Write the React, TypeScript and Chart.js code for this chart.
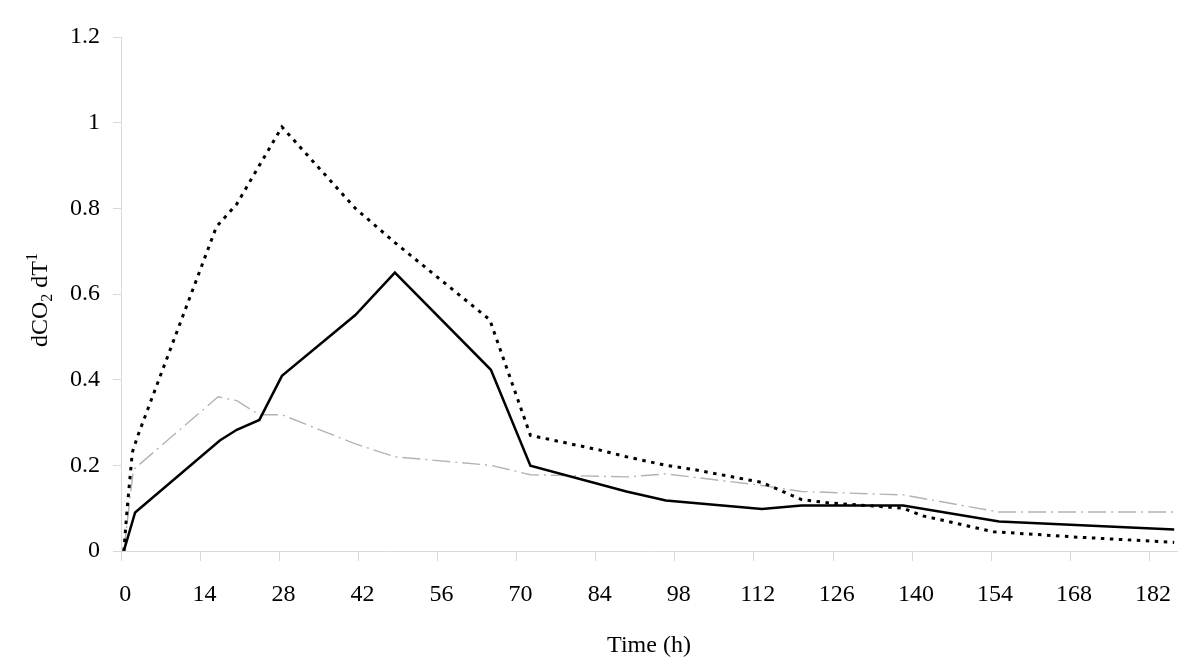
import React, { useEffect, useRef } from "react";
import { Chart, registerables } from "chart.js";

Chart.register(...registerables);

// ---- Data ----
const xTicks = [0, 14, 28, 42, 56, 70, 84, 98, 112, 126, 140, 154, 168, 182];
const yTicks = [0, 0.2, 0.4, 0.6, 0.8, 1, 1.2];

const solidTime = [0, 2, 17, 20, 24, 28, 41, 48, 65, 72, 89, 96, 113, 120, 138, 155, 186];
const solidValue = [0, 0.09, 0.258, 0.283, 0.306, 0.409, 0.551, 0.65, 0.423, 0.199, 0.139, 0.118, 0.098, 0.106, 0.106, 0.069, 0.05];

const dottedTime = [0, 0.6, 1.5, 2.5, 16.4, 20, 28, 41, 48, 64.8, 72, 84.5, 89, 96, 101, 113, 120, 125, 138, 141.5, 154, 168, 175, 186];
const dottedValue = [0, 0.1, 0.23, 0.27, 0.757, 0.81, 0.99, 0.8, 0.72, 0.54, 0.27, 0.235, 0.22, 0.2, 0.19, 0.16, 0.12, 0.112, 0.1, 0.082, 0.045, 0.033, 0.028, 0.02];

const greyTime = [0, 1.7, 16.7, 20, 24, 28, 41, 48, 65, 72, 89, 96, 113, 120, 138, 155, 186];
const greyValue = [0, 0.19, 0.36, 0.351, 0.318, 0.318, 0.25, 0.22, 0.2, 0.178, 0.173, 0.18, 0.153, 0.139, 0.131, 0.091, 0.091];

const xTitle = "Time (h)";
const yTitleParts = [
  { text: "dCO", kind: "n" },
  { text: "2", kind: "sub" },
  { text: " dT", kind: "n" },
  { text: "1", kind: "sup" },
];

const FONT_FAMILY = '"Liberation Serif", "Times New Roman", serif';
const AXIS_GREY = "#d9d9d9";

const toPoints = (xs: number[], ys: number[]) => xs.map((x, i) => ({ x, y: ys[i] }));

const decorPlugin = {
  id: "decor",
  afterDraw(chart: any) {
    const ctx = chart.ctx as CanvasRenderingContext2D;
    const xs = chart.scales.x;
    const area = chart.chartArea;
    ctx.save();
    // x tick marks between categories
    ctx.strokeStyle = AXIS_GREY;
    ctx.lineWidth = 1;
    ctx.beginPath();
    xTicks.forEach((v) => {
      const px = Math.round(xs.getPixelForValue(v - 0.5)) + 0.5;
      ctx.moveTo(px, area.bottom);
      ctx.lineTo(px, area.bottom + 10);
    });
    ctx.stroke();

    // x tick labels
    ctx.fillStyle = "#000";
    ctx.font = `24px ${FONT_FAMILY}`;
    ctx.textAlign = "center";
    ctx.textBaseline = "alphabetic";
    xTicks.forEach((v) => {
      ctx.fillText(String(v), xs.getPixelForValue(v) + 1.5, 601);
    });

    // x title
    ctx.fillText(xTitle, (area.left + area.right) / 2, 652);

    // y title (rotated, with sub/superscript)
    const big = `24px ${FONT_FAMILY}`;
    const small = `16px ${FONT_FAMILY}`;
    let total = 0;
    yTitleParts.forEach((p) => {
      ctx.font = p.kind === "n" ? big : small;
      total += ctx.measureText(p.text).width;
    });
    const cy = 300;
    ctx.translate(47, cy + total / 2);
    ctx.rotate(-Math.PI / 2);
    ctx.textAlign = "left";
    let x = 0;
    yTitleParts.forEach((p) => {
      ctx.font = p.kind === "n" ? big : small;
      const dy = p.kind === "sub" ? 5 : p.kind === "sup" ? -10 : 0;
      ctx.fillText(p.text, x, dy);
      x += ctx.measureText(p.text).width;
    });
    ctx.restore();
  },
};

export default function App() {
  const canvasRef = useRef<HTMLCanvasElement | null>(null);

  useEffect(() => {
    document.body.style.margin = "0";
    const canvas = canvasRef.current;
    if (!canvas) return;
    const font = { family: FONT_FAMILY, size: 24 };
    const chart = new Chart(canvas, {
      type: "scatter",
      data: {
        datasets: [
          {
            label: "solid",
            data: toPoints(solidTime, solidValue),
            showLine: true,
            borderColor: "#000",
            borderWidth: 2.5,
            pointRadius: 0,
            tension: 0,
            fill: false,
          },
          {
            label: "dotted",
            data: toPoints(dottedTime, dottedValue),
            showLine: true,
            borderColor: "#000",
            borderWidth: 3,
            borderDash: [3.5, 5.5],
            borderCapStyle: "butt",
            pointRadius: 0,
            tension: 0,
            fill: false,
          },
          {
            label: "dashdot",
            data: toPoints(greyTime, greyValue),
            showLine: true,
            borderColor: "#b3b3b3",
            borderWidth: 1.4,
            borderDash: [18, 5, 2, 5],
            pointRadius: 0,
            tension: 0,
            fill: false,
          },
        ],
      },
      options: {
        responsive: false,
        animation: false,
        layout: { padding: { top: 37, right: 23, left: 0, bottom: 0 } },
        plugins: { legend: { display: false }, tooltip: { enabled: false } },
        scales: {
          x: {
            type: "linear",
            min: -0.5,
            max: 186.5,
            afterBuildTicks: (s: any) => {
              s.ticks = xTicks.map((v) => ({ value: v }));
            },
            afterFit: (s: any) => {
              s.height = 116;
            },
            border: { display: true, color: AXIS_GREY, width: 1 },
            grid: { display: false },
            ticks: { display: false },
          },
          y: {
            type: "linear",
            min: 0,
            max: 1.2,
            afterBuildTicks: (s: any) => {
              s.ticks = yTicks.map((v) => ({ value: v }));
            },
            afterFit: (s: any) => {
              s.width = 121;
            },
            border: { display: true, color: AXIS_GREY, width: 1 },
            grid: {
              display: true,
              drawOnChartArea: false,
              drawTicks: true,
              tickLength: 8,
              color: AXIS_GREY,
            },
            ticks: {
              font,
              color: "#000",
              padding: 13,
              callback: (v: any) => String(Math.round(Number(v) * 10) / 10),
            },
          },
        },
      },
      plugins: [decorPlugin],
    } as any);
    return () => chart.destroy();
  }, []);

  return (
    <div style={{ width: 1200, height: 667, background: "#fff" }}>
      <canvas ref={canvasRef} width={1200} height={667} style={{ display: "block" }} />
    </div>
  );
}
